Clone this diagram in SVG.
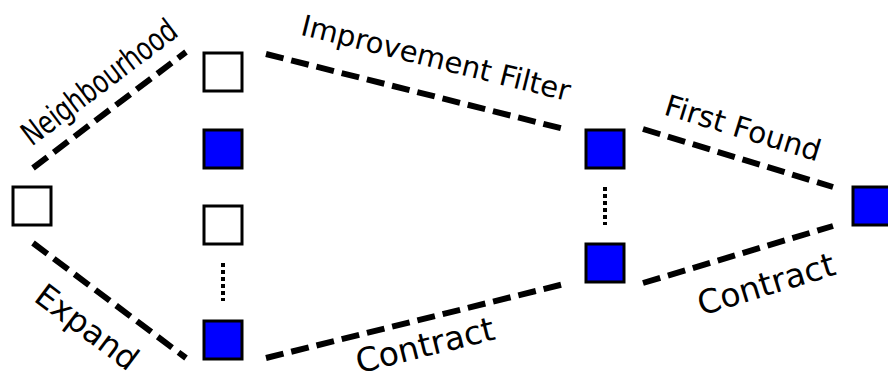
<svg xmlns="http://www.w3.org/2000/svg" width="888" height="376" viewBox="0 0 888 376">
<style>
.w{fill:#ffffff;stroke:#000;stroke-width:3}
.b{fill:#0000ff;stroke:#000;stroke-width:3}
.d{stroke:#000;stroke-width:6;stroke-dasharray:18,8;fill:none}
.dot{stroke:#000;stroke-width:4;stroke-dasharray:4,3;fill:none}
.t{font-family:"DejaVu Sans",sans-serif;fill:#000;text-anchor:middle}
.tc{font-family:"DejaVu Sans Condensed","DejaVu Sans",sans-serif;fill:#000;text-anchor:middle}
</style>
<rect width="888" height="376" fill="#fff"/>
<g id="connectors">
<line class="d" x1="33" y1="168" x2="186" y2="52"/>
<line class="d" x1="33" y1="243" x2="186" y2="358"/>
<line class="d" x1="266" y1="54" x2="568" y2="130"/>
<line class="d" x1="266" y1="358" x2="568" y2="283"/>
<line class="d" x1="643" y1="129" x2="833" y2="187"/>
<line class="d" x1="643" y1="283" x2="833" y2="226"/>
<line class="dot" x1="223" y1="263" x2="223" y2="301"/>
<line class="dot" x1="605" y1="187" x2="605" y2="225"/>
</g>
<g id="labels">
<text class="tc" font-size="32" dy="0.35em" transform="translate(99,82) rotate(-37) scale(0.84,1)">Neighbourhood</text>
<text class="t" font-size="32" dy="0.35em" transform="translate(87,327) rotate(37)">Expand</text>
<text class="t" font-size="29" dy="0.35em" transform="translate(436,58) rotate(14)">Improvement Filter</text>
<text class="t" font-size="33" dy="0.35em" transform="translate(425,345) rotate(-14)">Contract</text>
<text class="t" font-size="29.5" dy="0.35em" transform="translate(743,128) rotate(17)">First Found</text>
<text class="t" font-size="33" dy="0.35em" transform="translate(766,284) rotate(-17)">Contract</text>
</g>
<g id="n0"><rect class="w" x="13" y="187" width="38" height="38"/></g>
<g id="n1"><rect class="w" x="204" y="53" width="38" height="38"/></g>
<g id="n2"><rect class="b" x="204" y="130" width="38" height="38"/></g>
<g id="n3"><rect class="w" x="204" y="206" width="38" height="38"/></g>
<g id="n4"><rect class="b" x="204" y="321" width="38" height="38"/></g>
<g id="n5"><rect class="b" x="586" y="130" width="38" height="38"/></g>
<g id="n6"><rect class="b" x="586" y="244" width="38" height="38"/></g>
<g id="n7"><rect class="b" x="853" y="187" width="38" height="38"/></g>
</svg>
